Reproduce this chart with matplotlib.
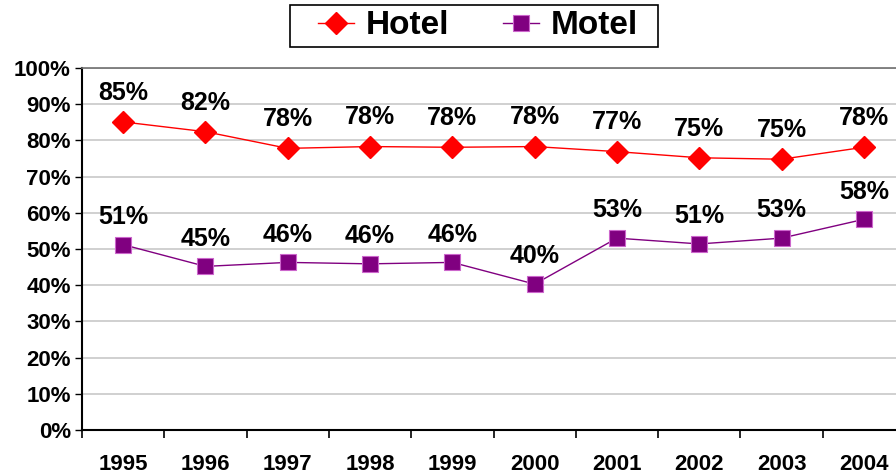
import matplotlib
matplotlib.use("Agg")
import matplotlib.pyplot as plt
from matplotlib.patches import Rectangle
from matplotlib.ticker import FuncFormatter, MultipleLocator

years = ["1995", "1996", "1997", "1998", "1999", "2000", "2001", "2002", "2003", "2004"]
hotel = [0.851, 0.824, 0.778, 0.783, 0.781, 0.783, 0.769, 0.752, 0.748, 0.781]
motel = [0.512, 0.452, 0.463, 0.459, 0.463, 0.403, 0.530, 0.514, 0.530, 0.582]

plt.rcParams['font.family'] = ['Liberation Sans', 'DejaVu Sans']
plt.rcParams['font.weight'] = 'bold'

W, H = 896, 475
fig = plt.figure(figsize=(W / 100, H / 100), dpi=100)
left, right, top, bottom = 82, 905, 68, 430
ax = fig.add_axes([left / W, (H - bottom) / H, (right - left) / W, (bottom - top) / H])

x = list(range(len(years)))
ax.plot(x, hotel, color='#FF0000', lw=1.0, marker='D', markersize=11,
        markerfacecolor='#FF0000', markeredgecolor='#FF0000', label='Hotel', zorder=3)
ax.plot(x, motel, color='#800080', lw=1.0, marker='s', markersize=12,
        markerfacecolor='#800080', markeredgecolor='#CC66CC', markeredgewidth=0.8,
        label='Motel', zorder=3)

for xi, v in zip(x, hotel):
    ax.annotate(f"{round(v * 100):d}%", (xi, v), xytext=(0, 21), textcoords='offset points',
                ha='center', va='center', fontsize=18, fontweight='bold', color='black')
for xi, v in zip(x, motel):
    ax.annotate(f"{round(v * 100):d}%", (xi, v), xytext=(0, 20), textcoords='offset points',
                ha='center', va='center', fontsize=18, fontweight='bold', color='black')

ax.set_xlim(-0.5, len(years) - 0.5)
ax.set_ylim(0, 1.0)
ax.yaxis.set_major_locator(MultipleLocator(0.1))
ax.yaxis.set_major_formatter(FuncFormatter(lambda v, p: f"{round(v * 100):d}%"))
ax.set_xticks([i - 0.5 for i in range(len(years) + 1)])
ax.set_xticklabels([])
ax.set_xticks(x, minor=True)
ax.set_xticklabels(years, minor=True)
ax.tick_params(axis='x', which='minor', length=0, pad=17, labelsize=16)
ax.tick_params(axis='x', which='major', length=6, width=1.2, color='black', direction='out')
ax.tick_params(axis='y', length=5, width=1, direction='out', pad=3, labelsize=16)
for lab in ax.get_yticklabels() + ax.get_xticklabels(minor=True):
    lab.set_fontweight('bold')

ax.grid(axis='y', color='#C8C8C8', lw=1.2)
ax.set_axisbelow(True)
ax.spines['top'].set_color('#707070')
ax.spines['top'].set_linewidth(1.2)
ax.spines['right'].set_visible(False)
ax.spines['left'].set_linewidth(1.5)
ax.spines['bottom'].set_linewidth(1.5)

leg = fig.legend(loc='center', bbox_to_anchor=(478 / W, 1 - 26 / H), ncol=2,
                 frameon=False, handlelength=1.1, columnspacing=1.6, handletextpad=0.35,
                 borderpad=0.15, borderaxespad=0, prop={'weight': 'bold', 'size': 24})
fig.patches.append(Rectangle((290 / W, 1 - 47 / H), (658 - 290) / W, 42 / H,
                             transform=fig.transFigure, fill=False,
                             edgecolor='black', linewidth=1.2))

fig.savefig('out.png', dpi=100)
